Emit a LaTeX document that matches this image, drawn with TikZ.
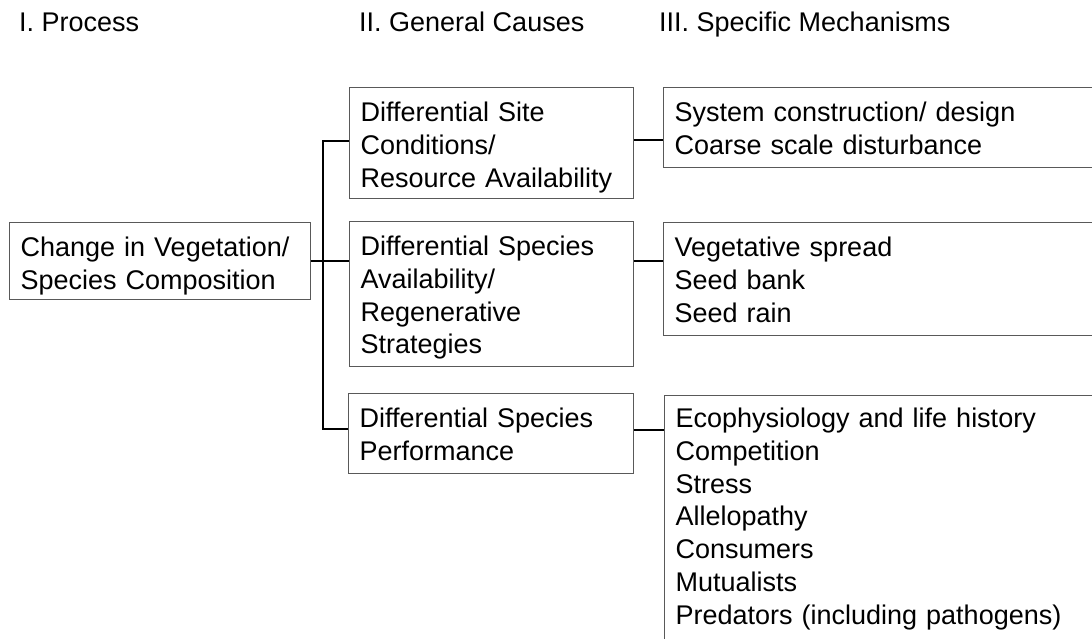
\documentclass[tikz,border=0pt]{standalone}
\usepackage{fontspec}
\setmainfont{Liberation Sans}
\begin{document}
\begin{tikzpicture}[
x = 1pt, y = -1pt,
font = \fontsize{27}{32.75}\selectfont,
head/.style = {anchor = base west, inner sep = 0pt},
box/.style = {rectangle, draw = black!65, line width = 1.3pt, anchor = north west, align = left, inner xsep = 11pt, inner ysep = 0pt, text height = 34pt},
link/.style = {line width = 2pt, black}
]
\clip (0,0) rectangle (1092,639);
\node[head] (process) at (19,32) {I. Process};
\node[head] (causes) at (359,32) {II. General Causes};
\node[head] (mechs) at (659,32) {III. Specific Mechanisms};

\node[box, text width = 279pt, text depth = 43pt] (proc) at (9,222) {Change in Vegetation/\\Species Composition};

\node[box, text width = 262pt, text depth = 77pt] (site) at (349,87) {Differential Site\\Conditions/\\Resource Availability};
\node[box, text width = 262pt, text depth = 111pt] (avail) at (349,221) {Differential Species\\Availability/\\Regenerative\\Strategies};
\node[box, text width = 263pt, text depth = 46pt] (perf) at (348,393) {Differential Species\\Performance};

\node[box, text width = 440pt, text depth = 46pt] (mech1) at (663,87) {System construction/ design\\Coarse scale disturbance};
\node[box, text width = 440pt, text depth = 79pt] (mech2) at (663,222) {Vegetative spread\\Seed bank\\Seed rain};
\node[box, text width = 440pt, text height = 32pt, text depth = 252pt] (mech3) at (664,395) {Ecophysiology and life history\\Competition\\Stress\\Allelopathy\\Consumers\\Mutualists\\Predators (including pathogens)};

\coordinate (fork) at (323,261);
\coordinate (siteL) at ([yshift=2.5pt]site.west);
\coordinate (siteR) at ([yshift=3pt]site.east);
\coordinate (perfL) at ([yshift=5pt]perf.west);
\coordinate (perfR) at ([yshift=4pt]perf.east);
\draw[link] (proc.east) -- (avail.west |- proc.east);
\draw[link] (siteL) -| (fork) |- (perfL);
\draw[link] (siteR) -- (siteR -| mech1.west);
\draw[link] (avail.east |- proc.east) -- (mech2.west |- proc.east);
\draw[link] (perfR) -- (perfR -| mech3.west);
\end{tikzpicture}
\end{document}
